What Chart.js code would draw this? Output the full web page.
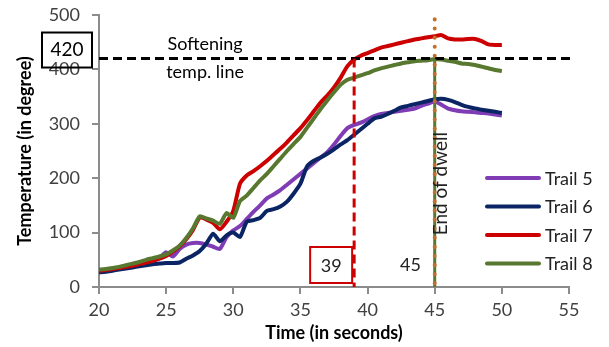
<!DOCTYPE html>
<html>
<head>
<meta charset="utf-8">
<script src="https://cdn.jsdelivr.net/npm/chart.js@4.4.1/dist/chart.umd.min.js"></script>
<style>
  html, body { margin: 0; padding: 0; background: #fff; }
  #chartArea { display: block; }
</style>
</head>
<body>
<canvas id="chartArea" width="609" height="347"></canvas>
<script>
// time axis (seconds)
const times = [20, 20.5, 21, 21.5, 22, 22.5, 23, 23.5, 24, 24.5, 25, 25.5, 26, 26.5, 27, 27.5,
  28, 28.5, 29, 29.5, 30, 30.5, 31, 31.5, 32, 32.5, 33, 33.5, 34, 34.5, 35, 35.5, 36, 36.5,
  37, 37.5, 38, 38.5, 39, 39.5, 40, 40.5, 41, 41.5, 42, 42.5, 43, 43.5, 44, 44.5, 45, 45.5,
  46, 46.5, 47, 47.5, 48, 48.5, 49, 49.5, 50];

const trail5 = [30, 31, 33, 35, 37, 40, 43, 46, 50, 54, 64, 56, 70, 78, 81, 81,
  78, 74, 70, 92, 104, 112, 125, 138, 150, 163, 170, 178, 188, 198, 208, 218, 228, 238,
  248, 262, 278, 292, 298, 302, 308, 314, 318, 320, 322, 324, 326, 328, 333, 337, 341, 335,
  328, 325, 323, 322, 321, 320, 319, 317, 315];
const trail6 = [27, 28, 30, 32, 34, 36, 38, 40, 42, 43, 44, 44, 45, 52, 58, 66,
  80, 98, 84, 95, 100, 92, 120, 123, 127, 140, 143, 148, 157, 172, 190, 222, 232, 238,
  245, 253, 262, 270, 280, 290, 300, 310, 313, 318, 324, 330, 333, 336, 339, 342, 345, 346,
  344, 340, 335, 331, 328, 326, 324, 322, 320];
const trail7 = [30, 31, 33, 35, 37, 39, 42, 45, 48, 52, 57, 65, 75, 88, 105, 128,
  124, 118, 106, 120, 140, 190, 205, 213, 222, 232, 243, 254, 266, 279, 292, 307, 323, 339,
  352, 367, 385, 406, 418, 425, 430, 435, 440, 443, 446, 449, 452, 455, 457, 459, 461, 463,
  457, 455, 455, 456, 456, 452, 446, 445, 445];
const trail8 = [32, 33, 35, 37, 40, 43, 46, 50, 53, 56, 60, 67, 76, 90, 108, 130,
  126, 122, 116, 136, 127, 158, 168, 182, 196, 208, 222, 236, 250, 263, 276, 293, 310, 327,
  343, 358, 372, 381, 385, 389, 393, 398, 402, 405, 408, 411, 413, 415, 416, 417, 419, 418,
  416, 414, 411, 410, 408, 405, 402, 399, 397];

const trailNames = ['Trail 5', 'Trail 6', 'Trail 7', 'Trail 8'];
const trailColors = ['#7F3CB4', '#0B2564', '#CC0000', '#58772F'];

// annotation values
const softTemp = 420;
const softTime = 39;
const dwellTime = 45;
const dwellTop = 492;

const FONT = 'Lato, "Open Sans", sans-serif';

function toPoints(vals) {
  return vals.map((v, i) => ({ x: times[i], y: v }));
}

const series = [trail5, trail6, trail7, trail8];

const annotations = {
  id: 'annotations',
  afterDatasetsDraw(chart) {
    const ctx = chart.ctx;
    const xs = chart.scales.x;
    const ys = chart.scales.y;
    const ySoft = ys.getPixelForValue(softTemp);
    const y0 = ys.getPixelForValue(0);
    ctx.save();

    // softening line
    ctx.strokeStyle = '#000';
    ctx.lineWidth = 3;
    ctx.setLineDash([9, 5]);
    ctx.beginPath();
    ctx.moveTo(xs.left, ySoft);
    ctx.lineTo(xs.right + 1, ySoft);
    ctx.stroke();

    // red vertical at 39
    const x39 = xs.getPixelForValue(softTime);
    ctx.strokeStyle = '#CC0000';
    ctx.beginPath();
    ctx.moveTo(x39, ySoft);
    ctx.lineTo(x39, y0);
    ctx.stroke();

    // end of dwell: green segment + orange dots
    const x45 = xs.getPixelForValue(dwellTime);
    ctx.setLineDash([]);
    ctx.strokeStyle = '#58772F';
    ctx.lineWidth = 3;
    ctx.beginPath();
    ctx.moveTo(x45, ys.getPixelForValue(trail8[50]));
    ctx.lineTo(x45, y0);
    ctx.stroke();
    ctx.strokeStyle = '#C0702A';
    ctx.lineWidth = 4;
    ctx.lineCap = 'round';
    ctx.setLineDash([0.1, 9]);
    ctx.beginPath();
    ctx.moveTo(x45, ys.getPixelForValue(dwellTop));
    ctx.lineTo(x45, y0);
    ctx.stroke();
    ctx.setLineDash([]);
    ctx.lineCap = 'butt';

    // texts
    ctx.fillStyle = '#000';
    ctx.textAlign = 'center';
    ctx.textBaseline = 'middle';
    ctx.font = '18px ' + FONT;
    const xSoftText = xs.getPixelForValue(27.9);
    ctx.fillText('Softening', xSoftText, ySoft - 14);
    ctx.fillText('temp. line', xSoftText, ySoft + 14);

    // 420 box left of axis
    ctx.strokeStyle = '#000';
    ctx.lineWidth = 2;
    ctx.strokeRect(xs.left - 57, ySoft - 26, 50, 35);
    ctx.font = '19px ' + FONT;
    ctx.fillText('420', xs.left - 32, ySoft - 9);

    // 39 box
    ctx.strokeStyle = '#CC0000';
    ctx.strokeRect(x39 - 44, y0 - 40, 42, 36);
    ctx.font = '18px ' + FONT;
    ctx.fillStyle = '#222';
    ctx.fillText('39', x39 - 23, y0 - 21);
    ctx.fillText('45', xs.getPixelForValue(43.2), y0 - 22);

    // End of dwell (rotated)
    ctx.save();
    ctx.translate(x45 + 6, ys.getPixelForValue(190));
    ctx.rotate(-Math.PI / 2);
    ctx.font = '19px ' + FONT;
    ctx.fillStyle = '#222';
    ctx.fillText('End of dwell', 0, 0);
    ctx.restore();

    // legend
    ctx.font = '18px ' + FONT;
    ctx.textAlign = 'left';
    ctx.lineWidth = 4;
    ctx.lineCap = 'round';
    chart.data.datasets.forEach((ds, i) => {
      const ly = 178 + i * 28.5;
      ctx.strokeStyle = ds.borderColor;
      ctx.beginPath();
      ctx.moveTo(487, ly);
      ctx.lineTo(539, ly);
      ctx.stroke();
      ctx.fillStyle = '#222';
      ctx.fillText(ds.label, 545, ly + 1);
    });
    ctx.restore();
  }
};

new Chart(document.getElementById('chartArea'), {
  type: 'line',
  data: {
    datasets: series.map((vals, i) => ({
      label: trailNames[i],
      data: toPoints(vals),
      borderColor: trailColors[i],
      backgroundColor: trailColors[i],
      borderWidth: 4,
      pointRadius: 0,
      tension: 0.2,
      order: 4 - i
    }))
  },
  options: {
    responsive: false,
    animation: false,
    layout: { padding: { top: 15, right: 40, left: 0, bottom: 0 } },
    plugins: {
      legend: { display: false },
      tooltip: { enabled: false }
    },
    scales: {
      x: {
        type: 'linear',
        min: 20,
        max: 55,
        afterFit(scale) { scale.height = 60; scale.paddingRight = 0; scale.paddingLeft = 0; },
        ticks: { stepSize: 5, color: '#404040', font: { family: FONT, size: 18 }, padding: 5, maxRotation: 0 },
        grid: { drawOnChartArea: false, tickLength: 7, color: '#8C8C8C', lineWidth: 2 },
        border: { color: '#8C8C8C', width: 2 },
        title: {
          display: true,
          text: 'Time (in seconds)',
          color: '#000',
          font: { family: FONT, size: 18, weight: 'bold' },
          padding: { top: 0, bottom: 3 }
        }
      },
      y: {
        min: 0,
        max: 500,
        afterFit(scale) { scale.width = 99; scale.paddingTop = 0; scale.paddingBottom = 0; },
        ticks: { stepSize: 100, color: '#404040', font: { family: FONT, size: 18 }, padding: 12 },
        grid: { drawOnChartArea: false, tickLength: 7, color: '#8C8C8C', lineWidth: 2 },
        border: { color: '#8C8C8C', width: 2 },
        title: {
          display: true,
          text: 'Temperature (in degree)',
          color: '#000',
          font: { family: FONT, size: 18, weight: 'bold' },
          padding: { top: 14, bottom: 0 }
        }
      }
    }
  },
  plugins: [annotations]
});
</script>
</body>
</html>
